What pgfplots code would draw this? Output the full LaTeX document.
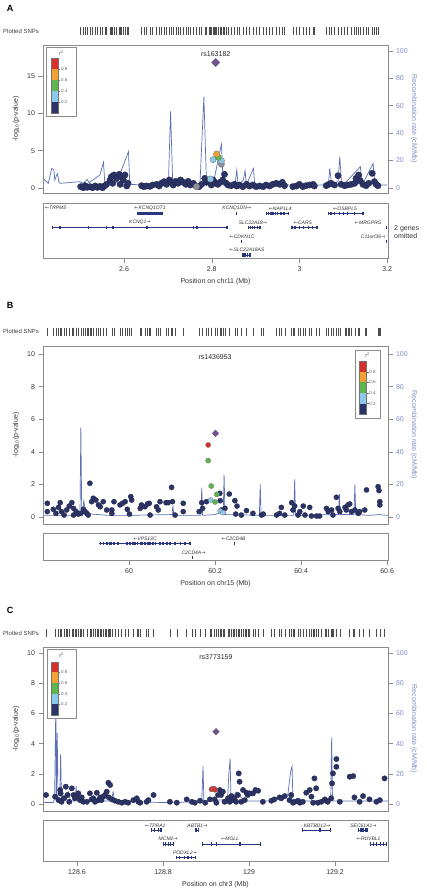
\documentclass[border=0pt]{standalone}
\usepackage{fontspec}
\setmainfont{Liberation Sans}
\newfontfamily\arrowfont{DejaVu Sans}
\usepackage{pgfplots}
\usepackage{pgfplotstable}
\pgfplotsset{compat=1.18}
\definecolor{cNavy}{HTML}{2C3366}
\definecolor{cRed}{HTML}{D7302C}
\definecolor{cOrange}{HTML}{F0A235}
\definecolor{cGreen}{HTML}{5DB54E}
\definecolor{cLBlue}{HTML}{8CC8E8}
\definecolor{cPurple}{HTML}{6B5494}
\definecolor{cGray}{HTML}{8C9098}
\definecolor{cRecomb}{HTML}{5A6FB4}
\definecolor{cRecText}{HTML}{7D8CC4}
\definecolor{cGene}{HTML}{2A3580}
\definecolor{cFrame}{HTML}{8A8A8A}
\newcommand{\la}{{\arrowfont\upshape ←}}
\newcommand{\ra}{{\arrowfont\upshape →}}

\pgfplotsset{
  base/.style={scale only axis, width=345pt, anchor=south west,
    /pgf/number format/assume math mode=true,
    tick label style={font=\fontsize{7}{8}\selectfont, text=black!80},
    axis line style={draw=cFrame, line width=0.6pt},
    tick style={draw=cFrame, line width=0.5pt},
    tick align=outside, major tick length=4.5pt},
  recax/.style={base, axis y line*=right, axis x line=none,
    yticklabel style={text=cRecText},
    every axis y label/.style={at={(axis description cs:1.075,0.5)}, rotate=-90, anchor=center, text=cRecText, font=\fontsize{7}{8}\selectfont},
    ylabel={Recombination rate (cM/Mb)}},
  mainax/.style={base, xtick=\empty, ytick pos=left,
    every axis y label/.style={at={(axis description cs:-0.078,0.5)}, rotate=90, anchor=center, text=black!80, font=\fontsize{7}{8}\selectfont},
    ylabel={-log\textsubscript{10}(p-value)}},
  geneax/.style={base, ytick=\empty, xtick pos=left, major tick length=5pt, ymin=0, clip=false,
    every axis x label/.style={at={(axis description cs:0.5,0)}, anchor=center, yshift=-24pt, text=black!80, font=\fontsize{7}{8}\selectfont}},
  rugax/.style={scale only axis, width=345pt, height=8pt, anchor=south west, ymin=0, ymax=1, hide axis, clip=false},
  navyp/.style={only marks, mark=*, mark size=#1, mark options={fill=cNavy, draw=cNavy!70!black, line width=0.3pt}},
  colp/.style 2 args={only marks, mark=*, mark size=#2, mark options={fill=#1, draw=black!55, line width=0.3pt}},
  leadp/.style={only marks, mark=square*, mark size=#1, mark options={rotate=45, fill=cPurple, draw=black!60, line width=0.3pt}},
  genel/.style={cGene, line width=0.6pt},
  exon/.style={only marks, mark=|, mark size=1.7pt, mark options={line width=1.3pt, draw=cGene}},
  rug/.style={only marks, mark=|, mark size=4pt, mark options={line width=0.45pt, draw=black!70}},
}
\tikzset{gl/.style={font=\fontsize{5}{6}\selectfont\itshape, text=black!80, inner sep=0.5pt},
  lead/.style={font=\fontsize{7}{8}\selectfont, text=black!85, inner sep=0pt},
  plab/.style={font=\fontsize{9}{10}\selectfont\bfseries, anchor=center},
  rlab/.style={font=\fontsize{6}{7}\selectfont, text=black!75, anchor=west, inner sep=0pt}}

\newcommand{\rlegend}[7]{%
  \pgfmathsetmacro{\hh}{(#7-#6)/5}%
  \draw[cFrame, line width=0.6pt, fill=white] (#1pt,-#2pt) rectangle (#3pt,-#4pt);
  \node[font=\fontsize{5.5}{6}\selectfont, text=black!70, inner sep=0pt] at ({(#1+#3)/2*1pt},{-(#2+#6)/2*1pt}) {r\textsuperscript{2}};
  \foreach \i/\cc in {0/cRed,1/cOrange,2/cGreen,3/cLBlue,4/cNavy}{
    \fill[\cc] ({#5*1pt},{-(#6+\i*\hh)*1pt}) rectangle ({(#5+7.3)*1pt},{-(#6+(\i+1)*\hh)*1pt});
  }
  \draw[black!55, line width=0.3pt] ({#5*1pt},{-#6*1pt}) rectangle ({(#5+7.3)*1pt},{-#7*1pt});
  \foreach \i/\l in {1/0.8,2/0.6,3/0.4,4/0.2}{
    \draw[black!55, line width=0.3pt] ({(#5+7.3)*1pt},{-(#6+\i*\hh)*1pt}) -- ++(2pt,0);
    \node[anchor=west, inner sep=0.3pt, font=\fontsize{4.5}{5}\selectfont, text=black!60] at ({(#5+9.5)*1pt},{-(#6+\i*\hh)*1pt}) {\l};
  }
}

% ---------------- data ----------------
\pgfplotstableread{
x y
2.501 0.18
2.507 0.04
2.511 0.31
2.516 0.09
2.522 0.18
2.528 0.04
2.534 0.27
2.539 0.09
2.545 0.22
2.551 0.04
2.556 0.31
2.560 0.49
2.568 1.07
2.571 1.52
2.577 1.74
2.583 1.29
2.589 1.83
2.594 1.52
2.598 1.07
2.602 1.74
2.574 0.63
2.591 0.49
2.606 0.27
2.609 0.63
2.640 0.31
2.645 0.18
2.651 0.27
2.659 0.22
2.665 0.40
2.674 0.49
2.680 0.27
2.685 0.63
2.691 0.85
2.697 0.49
2.703 1.07
2.708 0.76
2.712 0.40
2.718 0.89
2.723 0.63
2.729 1.07
2.735 0.76
2.741 0.49
2.746 0.89
2.751 0.40
2.758 0.63
2.764 0.27
2.771 0.18
2.777 0.49
2.784 1.29
2.788 0.76
2.794 0.89
2.799 0.40
2.803 1.07
2.805 0.85
2.809 0.63
2.814 0.49
2.819 0.76
2.825 1.07
2.829 1.83
2.833 0.63
2.837 0.40
2.844 0.31
2.852 0.49
2.857 0.27
2.863 0.40
2.871 0.18
2.879 0.49
2.886 0.27
2.894 0.40
2.901 0.18
2.909 0.27
2.917 0.18
2.924 0.40
2.932 0.27
2.939 0.49
2.947 0.63
2.955 0.49
2.961 0.76
2.966 0.31
2.985 0.18
2.993 0.27
3.000 0.49
3.008 0.18
3.015 0.31
3.023 0.40
3.031 0.49
3.034 0.27
3.061 0.31
3.067 0.49
3.072 0.63
3.080 0.40
3.088 1.65
3.095 0.49
3.103 0.31
3.110 0.40
3.118 0.49
3.126 0.63
3.129 1.29
3.135 1.74
3.139 0.94
3.145 0.49
3.152 0.31
3.158 0.63
3.166 1.96
3.171 0.85
3.175 0.49
3.179 0.31
}\snpsA

\pgfplotstableread{
x y
2.416 6.6
2.427 3.4
2.435 14.3
2.440 13.1
2.442 5.8
2.446 9.5
2.448 10.4
2.451 4.6
2.454 3.4
2.499 4.6
2.507 3.4
2.516 6.3
2.520 3.9
2.545 9.5
2.553 18.7
2.556 3.4
2.583 3.9
2.610 26.5
2.613 2.7
2.644 2.2
2.701 2.7
2.706 55.8
2.711 2.7
2.773 2.7
2.782 66.5
2.788 3.4
2.803 2.7
2.822 32.0
2.826 3.4
2.853 2.2
2.857 13.1
2.860 2.2
2.872 5.8
2.876 12.6
2.879 2.2
2.895 14.3
2.898 2.2
2.925 2.2
3.066 2.2
3.069 14.3
3.073 3.4
3.088 4.6
3.092 22.8
3.096 3.4
3.107 4.6
3.139 15.5
3.143 2.2
3.168 17.9
3.172 2.2
3.200 2.2
}\recA

\pgfplotstableread{
x y
59.810 0.84
59.810 0.33
59.824 0.47
59.830 0.22
59.836 0.59
59.840 0.88
59.843 0.33
59.849 0.12
59.855 0.43
59.861 0.67
59.867 0.88
59.871 0.53
59.871 0.12
59.877 0.33
59.882 0.18
59.888 0.22
59.894 0.47
59.898 0.33
59.902 0.22
59.905 0.12
59.909 2.07
59.913 0.94
59.917 1.15
59.923 1.04
59.929 0.74
59.933 0.63
59.940 0.94
59.948 0.43
59.960 0.43
59.960 0.22
59.965 0.94
59.979 0.74
59.985 0.84
59.991 0.94
59.996 0.47
60.001 0.18
60.004 1.25
60.006 1.04
60.026 0.53
60.029 0.74
60.037 0.63
60.043 0.80
60.047 0.84
60.049 0.12
60.064 0.63
60.068 0.43
60.072 0.94
60.086 0.88
60.091 0.88
60.099 1.82
60.101 0.94
60.107 0.12
60.126 0.84
60.126 0.33
60.163 0.33
60.169 0.88
60.171 0.53
60.180 0.94
60.211 1.45
60.212 1.00
60.215 0.43
60.223 0.53
60.233 1.41
60.246 1.00
60.251 0.67
60.248 0.18
60.261 0.12
60.273 0.39
60.288 0.22
60.308 0.12
60.312 0.18
60.343 0.12
60.350 0.22
60.354 0.59
60.362 0.12
60.378 0.88
60.381 0.43
60.385 0.67
60.393 0.12
60.397 0.33
60.405 0.67
60.409 0.12
60.420 0.59
60.424 0.06
60.436 0.06
60.443 0.06
60.459 0.53
60.463 0.33
60.471 0.43
60.474 0.12
60.482 1.21
60.486 0.53
60.490 0.33
60.502 0.59
60.505 0.43
60.509 0.74
60.513 0.80
60.517 0.33
60.525 0.43
60.533 0.22
60.536 0.33
60.548 0.43
60.552 1.66
60.579 1.86
60.581 1.62
60.583 0.94
60.583 0.74
}\snpsB

\pgfplotstableread{
x y
59.800 1.0
59.880 1.0
59.886 1.5
59.888 55
59.890 3
59.893 6
59.895 10
59.898 4
59.905 2
59.950 1.0
60.000 1.0
60.100 1.5
60.102 7
60.104 1.0
60.167 1.0
60.169 18
60.171 1.0
60.200 1.5
60.210 2.5
60.219 3.5
60.221 26
60.223 1.5
60.300 1.0
60.303 1.5
60.305 20
60.307 1.0
60.383 1.0
60.385 23
60.387 1.0
60.487 1.5
60.489 14
60.491 1.5
60.523 1.5
60.525 20
60.527 1.5
60.560 1.0
60.580 1.5
60.602 1.0
}\recB

\pgfplotstableread{
x y
128.528 0.60
128.549 0.49
128.557 0.26
128.561 0.93
128.562 0.71
128.564 0.15
128.570 0.38
128.574 1.15
128.578 0.60
128.582 0.15
128.588 1.04
128.592 0.60
128.595 0.38
128.599 0.53
128.603 0.71
128.607 0.26
128.611 0.44
128.615 0.15
128.623 0.15
128.630 0.71
128.634 0.31
128.638 0.38
128.642 0.15
128.646 0.75
128.650 0.26
128.654 0.44
128.657 0.26
128.661 0.49
128.665 0.60
128.669 0.82
128.673 1.41
128.677 1.26
128.674 0.44
128.681 0.31
128.688 0.22
128.696 0.15
128.704 0.09
128.712 0.15
128.719 0.09
128.731 0.26
128.739 0.38
128.743 0.15
128.747 0.09
128.762 0.15
128.766 0.26
128.778 0.60
128.816 0.15
128.832 0.09
128.855 0.31
128.867 0.15
128.874 0.09
128.886 0.22
128.898 0.09
128.909 0.31
128.920 0.31
128.924 0.09
128.928 0.60
128.932 0.93
128.935 0.60
128.939 0.82
128.943 0.15
128.951 0.38
128.955 0.15
128.959 0.53
128.963 0.26
128.966 0.38
128.970 0.15
128.974 0.60
128.976 2.03
128.978 1.48
128.982 0.15
128.986 0.93
128.990 0.26
128.994 0.75
128.997 0.60
129.001 0.71
129.009 0.71
129.015 0.93
129.021 0.88
129.032 0.15
129.052 0.22
129.059 0.31
129.071 0.44
129.075 0.38
129.083 0.53
129.094 0.26
129.098 0.60
129.102 0.09
129.106 0.15
129.114 0.22
129.118 0.09
129.125 0.15
129.133 0.75
129.141 0.93
129.145 0.49
129.149 0.09
129.152 1.70
129.156 1.04
129.160 0.09
129.168 0.15
129.176 0.31
129.180 0.22
129.183 0.15
129.191 0.38
129.193 1.37
129.195 2.03
129.203 2.98
129.203 2.47
129.211 0.15
129.234 1.81
129.242 1.85
129.245 0.44
129.257 0.15
129.265 0.53
129.280 0.31
129.296 0.15
129.304 0.26
129.315 1.70
}\snpsC

\pgfplotstableread{
x y
128.521 1
128.545 1
128.548 4
128.551 70
128.552 3
128.554 47
128.556 3
128.560 2
128.562 33
128.564 2
128.575 3
128.580 8
128.585 2
128.596 2
128.598 12
128.600 2
128.680 2
128.684 8
128.688 2
128.800 1
128.890 1.5
128.893 25
128.895 2
128.950 3
128.953 20
128.956 30
128.958 3
128.970 8
128.990 2
129.050 2
129.090 6
129.097 22
129.100 25
129.102 2
129.180 2
129.190 5
129.192 44
129.194 2
129.250 2
129.323 2
}\recC

\begin{document}
\begin{tikzpicture}
\useasboundingbox (0,0) rectangle (426pt,-892pt);

% ================= PANEL A =================
\node[plab] at (10pt,-8.3pt) {A};
\node[rlab] at (3pt,-31pt) {Plotted SNPs};
\begin{axis}[rugax, at={(43pt,-35pt)}, xmin=2.415, xmax=3.202]
\addplot[rug] table[x=x, y expr=0.5] {\snpsA};
\addplot[rug] coordinates {(2.809,0.5) (2.811,0.5) (2.815,0.5) (2.803,0.5) (2.822,0.5) (2.797,0.5) (2.765,0.5)};
\end{axis}
\begin{axis}[recax, at={(43pt,-193pt)}, height=148pt, xmin=2.415, xmax=3.202, ymin=-3.64, ymax=104.2, ytick={0,20,40,60,80,100}]
\addplot[cRecomb, line width=0.7pt] table[x=x,y=y] {\recA};
\end{axis}
\begin{axis}[mainax, at={(43pt,-193pt)}, height=148pt, xmin=2.415, xmax=3.202, ymin=-0.67, ymax=19.14, ytick={0,5,10,15}]
\addplot[navyp=3.2pt] table[x=x,y=y] {\snpsA};
\addplot[colp={cGray}{3.2pt}] coordinates {(2.765,0.18) (2.822,3.2)};
\addplot[colp={cLBlue}{3.2pt}] coordinates {(2.797,1.2) (2.803,3.8) (2.822,3.65)};
\addplot[colp={cGreen}{3.2pt}] coordinates {(2.815,4.1)};
\addplot[colp={cOrange}{3.2pt}] coordinates {(2.811,4.55)};
\addplot[leadp=3pt] coordinates {(2.809,16.8)};
\node[lead] at (axis cs:2.809,17.9) {rs163182};
\end{axis}
\begin{axis}[geneax, at={(43pt,-258pt)}, height=55pt, xmin=2.415, xmax=3.202, ymax=55,
  xtick={2.6,2.8,3,3.2}, xticklabels={2.6,2.8,3,3.2}, xlabel={Position on chr11 (Mb)}]
\node[gl, anchor=west] at (axis cs:2.418,49.7) {\la TRPM5};
\addplot[cGene, line width=3pt] coordinates {(2.629,44.7) (2.689,44.7)};
\node[gl] at (axis cs:2.659,49.7) {\la KCNQ1OT1};
\addplot[genel] coordinates {(2.437,30.7) (2.835,30.7)};
\addplot[exon] coordinates {(2.437,30.7) (2.454,30.7) (2.518,30.7) (2.560,30.7) (2.575,30.7) (2.652,30.7) (2.758,30.7) (2.766,30.7) (2.835,30.7)};
\node[gl] at (axis cs:2.636,35.3) {KCNQ1\ra};
\addplot[exon] coordinates {(2.857,44.7)};
\node[gl] at (axis cs:2.857,49.7) {KCNQ1DN\ra};
\addplot[genel] coordinates {(2.925,44.7) (2.975,44.7)};
\addplot[exon] coordinates {(2.925,44.7) (2.930,44.7) (2.935,44.7) (2.940,44.7) (2.946,44.7) (2.950,44.7) (2.958,44.7) (2.965,44.7) (2.975,44.7)};
\node[gl] at (axis cs:2.956,49.7) {\la NAP1L4};
\addplot[genel] coordinates {(3.067,44.7) (3.145,44.7)};
\addplot[exon] coordinates {(3.067,44.7) (3.072,44.7) (3.080,44.7) (3.092,44.7) (3.100,44.7) (3.110,44.7) (3.125,44.7) (3.145,44.7)};
\node[gl] at (axis cs:3.104,49.7) {\la OSBPL5};
\addplot[genel] coordinates {(2.883,30.7) (2.910,30.7)};
\addplot[exon] coordinates {(2.883,30.7) (2.888,30.7) (2.893,30.7) (2.898,30.7) (2.905,30.7) (2.910,30.7)};
\node[gl] at (axis cs:2.894,35.3) {SLC22A18\ra};
\addplot[genel] coordinates {(2.983,30.7) (3.040,30.7)};
\addplot[exon] coordinates {(2.983,30.7) (2.990,30.7) (3.000,30.7) (3.010,30.7) (3.020,30.7) (3.030,30.7) (3.040,30.7)};
\node[gl] at (axis cs:3.008,35.3) {\la CARS};
\addplot[exon] coordinates {(3.199,30.7)};
\node[gl] at (axis cs:3.157,35.3) {\la MRGPRG};
\addplot[exon] coordinates {(2.868,16.3)};
\node[gl] at (axis cs:2.869,21.3) {\la CDKN1C};
\addplot[exon] coordinates {(3.199,16.3)};
\node[gl] at (axis cs:3.168,21.3) {C11orf36\ra};
\addplot[genel] coordinates {(2.871,3) (2.887,3)};
\addplot[exon] coordinates {(2.871,3) (2.876,3) (2.881,3) (2.887,3)};
\node[gl] at (axis cs:2.880,8) {\la SLC22A18AS};
\end{axis}
\node[font=\fontsize{7}{8}\selectfont, text=black!80, anchor=west, align=left, inner sep=0pt] at (394pt,-232.5pt) {2 genes\\omitted};
\rlegend{46.7}{47.3}{76}{116.7}{51}{58.3}{113.3}

% ================= PANEL B =================
\node[plab] at (10pt,-305.7pt) {B};
\node[rlab] at (3pt,-331.7pt) {Plotted SNPs};
\begin{axis}[rugax, at={(43pt,-335.7pt)}, xmin=59.8, xmax=60.602]
\addplot[rug] table[x=x, y expr=0.5] {\snpsB};
\addplot[rug] coordinates {(60.201,0.5) (60.184,0.5) (60.191,0.5) (60.204,0.5) (60.200,0.5) (60.190,0.5) (60.212,0.5) (60.218,0.5)};
\end{axis}
\begin{axis}[recax, at={(43pt,-524pt)}, height=178pt, xmin=59.8, xmax=60.602, ymin=-4.3, ymax=104.9, ytick={0,20,40,60,80,100}]
\addplot[cRecomb, line width=0.7pt] table[x=x,y=y] {\recB};
\end{axis}
\begin{axis}[mainax, at={(43pt,-524pt)}, height=178pt, xmin=59.8, xmax=60.602, ymin=-0.43, ymax=10.49, ytick={0,2,4,6,8,10}]
\addplot[navyp=2.6pt] table[x=x,y=y] {\snpsB};
\addplot[colp={cLBlue}{2.6pt}] coordinates {(60.190,1.04) (60.212,0.37) (60.218,0.27)};
\addplot[colp={cGreen}{2.6pt}] coordinates {(60.184,3.46) (60.191,1.90) (60.204,1.39) (60.200,0.92)};
\addplot[colp={cRed}{2.6pt}] coordinates {(60.184,4.42)};
\addplot[leadp=2.4pt] coordinates {(60.201,5.13)};
\node[lead] at (axis cs:60.200,9.8) {rs1436953};
\end{axis}
\begin{axis}[geneax, at={(43pt,-560pt)}, height=27pt, xmin=59.8, xmax=60.602, ymax=27,
  xtick={60,60.2,60.4,60.6}, xticklabels={60,60.2,60.4,60.6}, xlabel={Position on chr15 (Mb)}]
\addplot[genel] coordinates {(59.931,16.7) (60.142,16.7)};
\addplot[exon] coordinates {(59.933,16.7) (59.940,16.7) (59.949,16.7) (59.956,16.7) (59.960,16.7) (59.965,16.7) (59.974,16.7) (59.995,16.7) (60.002,16.7) (60.009,16.7) (60.014,16.7) (60.019,16.7) (60.026,16.7) (60.030,16.7) (60.037,16.7) (60.044,16.7) (60.049,16.7) (60.056,16.7) (60.061,16.7) (60.072,16.7) (60.079,16.7) (60.088,16.7) (60.095,16.7) (60.107,16.7) (60.119,16.7) (60.130,16.7) (60.142,16.7)};
\node[gl] at (axis cs:60.037,21.3) {\la VPS13C};
\addplot[exon] coordinates {(60.245,16.7)};
\node[gl] at (axis cs:60.243,21.3) {\la C2CD4B};
\addplot[exon] coordinates {(60.148,2.7)};
\node[gl] at (axis cs:60.150,7.3) {C2CD4A\ra};
\end{axis}
\rlegend{355}{350}{380}{418.3}{359.3}{361}{414.3}

% ================= PANEL C =================
\node[plab] at (10pt,-610.7pt) {C};
\node[rlab] at (3pt,-633pt) {Plotted SNPs};
\begin{axis}[rugax, at={(43pt,-637pt)}, xmin=128.521, xmax=129.323]
\addplot[rug] table[x=x, y expr=0.5] {\snpsC};
\addplot[rug] coordinates {(128.923,0.5) (128.913,0.5) (128.918,0.5)};
\end{axis}
\begin{axis}[recax, at={(43pt,-811pt)}, height=164pt, xmin=128.521, xmax=129.323, ymin=-4.6, ymax=104, ytick={0,20,40,60,80,100}]
\addplot[cRecomb, line width=0.7pt] table[x=x,y=y] {\recC};
\end{axis}
\begin{axis}[mainax, at={(43pt,-811pt)}, height=164pt, xmin=128.521, xmax=129.323, ymin=-0.46, ymax=10.4, ytick={0,2,4,6,8,10}]
\addplot[navyp=2.7pt] table[x=x,y=y] {\snpsC};
\addplot[colp={cRed}{2.7pt}] coordinates {(128.913,0.98) (128.918,1.02) (128.921,0.95)};
\addplot[leadp=2.4pt] coordinates {(128.923,4.79)};
\node[lead] at (axis cs:128.923,9.7) {rs3773159};
\end{axis}
\begin{axis}[geneax, at={(43pt,-861pt)}, height=41pt, xmin=128.521, xmax=129.323, ymax=41,
  xtick={128.6,128.8,129,129.2}, xticklabels={128.6,128.8,129,129.2}, xlabel={Position on chr3 (Mb)}]
\addplot[genel] coordinates {(128.774,31) (128.795,31)};
\addplot[exon] coordinates {(128.774,31) (128.780,31) (128.790,31) (128.795,31)};
\node[gl] at (axis cs:128.782,35.7) {\la TPRA1};
\addplot[genel] coordinates {(128.877,31) (128.882,31)};
\addplot[exon] coordinates {(128.877,31) (128.882,31)};
\node[gl] at (axis cs:128.880,35.7) {ABTB1\ra};
\addplot[genel] coordinates {(129.125,31) (129.189,31)};
\addplot[exon] coordinates {(129.125,31) (129.165,31) (129.189,31)};
\node[gl] at (axis cs:129.158,35.7) {KBTBD12\ra};
\addplot[genel] coordinates {(129.254,31) (129.274,31)};
\addplot[exon] coordinates {(129.254,31) (129.260,31) (129.265,31) (129.270,31) (129.274,31)};
\node[gl] at (axis cs:129.266,35.7) {SEC61A1\ra};
\addplot[genel] coordinates {(128.801,17) (128.824,17)};
\addplot[exon] coordinates {(128.801,17) (128.806,17) (128.812,17) (128.818,17) (128.824,17)};
\node[gl] at (axis cs:128.812,22) {MCM2\ra};
\addplot[genel] coordinates {(128.892,17) (129.026,17)};
\addplot[exon] coordinates {(128.892,17) (128.913,17) (128.925,17) (128.979,17) (129.026,17)};
\node[gl] at (axis cs:128.956,22) {\la MGLL};
\addplot[genel] coordinates {(129.283,17) (129.320,17)};
\addplot[exon] coordinates {(129.283,17) (129.290,17) (129.297,17) (129.305,17) (129.312,17) (129.320,17)};
\node[gl] at (axis cs:129.278,22) {\la RUVBL1};
\addplot[genel] coordinates {(128.832,3.3) (128.875,3.3)};
\addplot[exon] coordinates {(128.832,3.3) (128.838,3.3) (128.850,3.3) (128.858,3.3) (128.866,3.3) (128.875,3.3)};
\node[gl] at (axis cs:128.851,8.3) {PODXL2\ra};
\end{axis}
\rlegend{47.3}{649.3}{76}{718.3}{51}{661.7}{715}

\end{tikzpicture}
\end{document}
